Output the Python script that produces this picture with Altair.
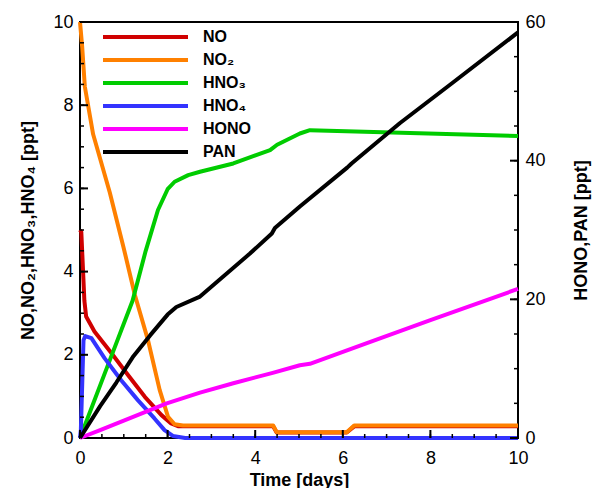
import altair as alt
import pandas as pd

FONT = "Liberation Sans"

series = ["NO", "NO₂", "HNO₃", "HNO₄", "HONO", "PAN"]
colors = ["#d00000", "#ff8000", "#00cc00", "#3333ff", "#ff00ff", "#000000"]

# left axis species (ppt)
no_t = [0, 0.03, 0.1, 0.14, 0.33, 0.72, 1.1, 1.48, 1.86, 2.08, 2.25, 4.41, 4.49, 6.09, 6.26, 10]
no_v = [5.0, 4.95, 3.3, 2.92, 2.56, 2.04, 1.51, 0.99, 0.55, 0.35, 0.28, 0.28, 0.13, 0.13, 0.28, 0.28]

no2_t = [0, 0.05, 0.11, 0.3, 0.68, 0.99, 1.25, 1.55, 1.82, 2.01, 2.16, 2.35, 4.41, 4.49, 6.09, 6.26, 10]
no2_v = [10.0, 9.4, 8.45, 7.3, 5.9, 4.6, 3.45, 2.36, 1.15, 0.51, 0.33, 0.3, 0.3, 0.14, 0.14, 0.3, 0.3]

hno3_t = [0, 0.6, 1.2, 1.5, 1.78, 2.0, 2.16, 2.47, 2.74, 3.5, 4.34, 4.5, 5.02, 5.25, 10]
hno3_v = [0, 1.65, 3.3, 4.5, 5.48, 5.98, 6.16, 6.32, 6.4, 6.6, 6.92, 7.05, 7.32, 7.4, 7.26]

hno4_t = [0, 0.02, 0.08, 0.12, 0.26, 0.56, 0.94, 1.32, 1.7, 1.93, 2.12, 2.4, 10]
hno4_v = [0, 0.2, 2.35, 2.45, 2.4, 1.92, 1.39, 0.91, 0.47, 0.19, 0.05, 0.0, 0.0]

# right axis species (ppt)
hono_t = [0, 0.46, 1.0, 1.98, 2.74, 3.5, 4.4, 5.02, 5.25, 6.55, 8.0, 10]
hono_v = [0, 1.15, 2.5, 5.0, 6.55, 7.9, 9.4, 10.5, 10.7, 13.7, 17.0, 21.5]

pan_t = [0, 0.46, 0.83, 1.22, 1.6, 2.0, 2.2, 2.74, 3.88, 4.38, 4.45, 5.02, 6.1, 6.2, 7.3, 8.5, 10]
pan_v = [0, 4.6, 8.0, 11.8, 14.8, 17.8, 18.9, 20.4, 26.6, 29.5, 30.3, 33.4, 39.0, 39.6, 45.4, 51.2, 58.5]

x_major = [0, 2, 4, 6, 8, 10]
x_minor = [i / 2 for i in range(21)]
yl_major = [0, 2, 4, 6, 8, 10]
yl_minor = [i / 2 for i in range(21)]
yr_major = [0, 20, 40, 60]
yr_minor = list(range(0, 61, 5))

YL_MAX = 10
YR_MAX = 60


def frame(name, ts, vs):
    return pd.DataFrame({"series": name, "t": ts, "v": vs})


left_df = pd.concat([
    frame(series[0], no_t, no_v),
    frame(series[1], no2_t, no2_v),
    frame(series[2], hno3_t, hno3_v),
    frame(series[3], hno4_t, hno4_v),
], ignore_index=True)
right_df = pd.concat([
    frame(series[4], hono_t, hono_v),
    frame(series[5], pan_t, pan_v),
], ignore_index=True)


def tick_rows(axis, values, major):
    return pd.DataFrame({"axis": axis, "v": values, "major": major})


tick_df = pd.concat([
    tick_rows("x", x_minor, 0), tick_rows("x", x_major, 1),
    tick_rows("yl", yl_minor, 0), tick_rows("yl", yl_major, 1),
    tick_rows("yr", yr_minor, 0), tick_rows("yr", yr_major, 1),
], ignore_index=True)

W, H = 438, 416
xs = alt.Scale(domain=[0, 10], nice=False, zero=False)
yl = alt.Scale(domain=[0, YL_MAX], nice=False)
yr = alt.Scale(domain=[0, YR_MAX], nice=False)

legend = alt.Legend(
    title=None, orient="none", legendX=55, legendY=4.5,
    symbolType="M-5,0H5", symbolStrokeWidth=4, symbolSize=289,
    labelFont=FONT, labelFontSize=16, labelFontWeight="bold", labelColor="black",
    labelOffset=47, rowPadding=4, padding=0, symbolOpacity=1,
)
color = alt.Color("series:N", scale=alt.Scale(domain=series, range=colors), legend=legend)

label_axis = dict(domain=False, grid=False, ticks=False, labelColor="black",
                  labelFont=FONT, labelFontSize=18, labelFlush=False, labelOverlap=False,
                  titleFont=FONT, titleFontSize=18, titleFontWeight="bold", titleColor="black")


def make_x_axis():
    return alt.Axis(values=x_major, orient="bottom", labelPadding=11,
                    title="Time [days]", titleX=219, titleY=47, titleBaseline="alphabetic",
                    titleAlign="center", **label_axis)


yl_axis = alt.Axis(values=yl_major, orient="left", labelPadding=7,
                   title="NO,NO₂,HNO₃,HNO₄ [ppt]", titleAngle=270,
                   titleX=-47, titleY=208, titleBaseline="alphabetic", titleAlign="center",
                   **label_axis)
yr_axis = alt.Axis(values=yr_major, orient="right", labelPadding=7,
                   title="HONO,PAN [ppt]", titleAngle=270,
                   titleX=68, titleY=208, titleBaseline="alphabetic", titleAlign="center",
                   **label_axis)

left_lines = alt.Chart(left_df).mark_line(strokeWidth=4, strokeJoin="round").encode(
    x=alt.X("t:Q", scale=xs, axis=make_x_axis()),
    y=alt.Y("v:Q", scale=yl, axis=yl_axis),
    color=color,
)
right_lines = alt.Chart(right_df).mark_line(strokeWidth=4, strokeJoin="round").encode(
    x=alt.X("t:Q", scale=xs, axis=make_x_axis()),
    y=alt.Y("v:Q", scale=yr, axis=yr_axis),
    color=color,
)

# inward major/minor ticks on the frame (bottom, left and right edges)
ticks = alt.Chart(tick_df).transform_calculate(
    len="datum.major ? 8 : 4",
    w="datum.major ? 2 : 1.5",
    px=f"datum.axis === 'x' ? scale('x', datum.v) : (datum.axis === 'yl' ? 0 : {W})",
    px2=f"datum.axis === 'x' ? scale('x', datum.v) : (datum.axis === 'yl' ? datum.len : {W} - datum.len)",
    py=f"datum.axis === 'x' ? {H} : {H} - datum.v * {H} / (datum.axis === 'yl' ? {YL_MAX} : {YR_MAX})",
    py2=f"datum.axis === 'x' ? {H} - datum.len : {H} - datum.v * {H} / (datum.axis === 'yl' ? {YL_MAX} : {YR_MAX})",
).mark_rule(color="black", strokeCap="butt").encode(
    x=alt.X("px:Q", scale=None, axis=None),
    x2="px2:Q",
    y=alt.Y("py:Q", scale=None, axis=None),
    y2="py2:Q",
    strokeWidth=alt.StrokeWidth("w:Q", scale=None, legend=None),
)

chart = (
    alt.layer(alt.layer(left_lines, ticks), right_lines)
    .resolve_scale(y="independent", color="shared")
    .properties(width=W, height=H,
                autosize=alt.AutoSizeParams(type="none"),
                padding={"left": 80, "top": 22, "right": 74, "bottom": 50},
                background="white")
    .configure_view(stroke="black", strokeWidth=2)
)

chart.save("out.html", embed_options={"renderer": "svg", "actions": False})
